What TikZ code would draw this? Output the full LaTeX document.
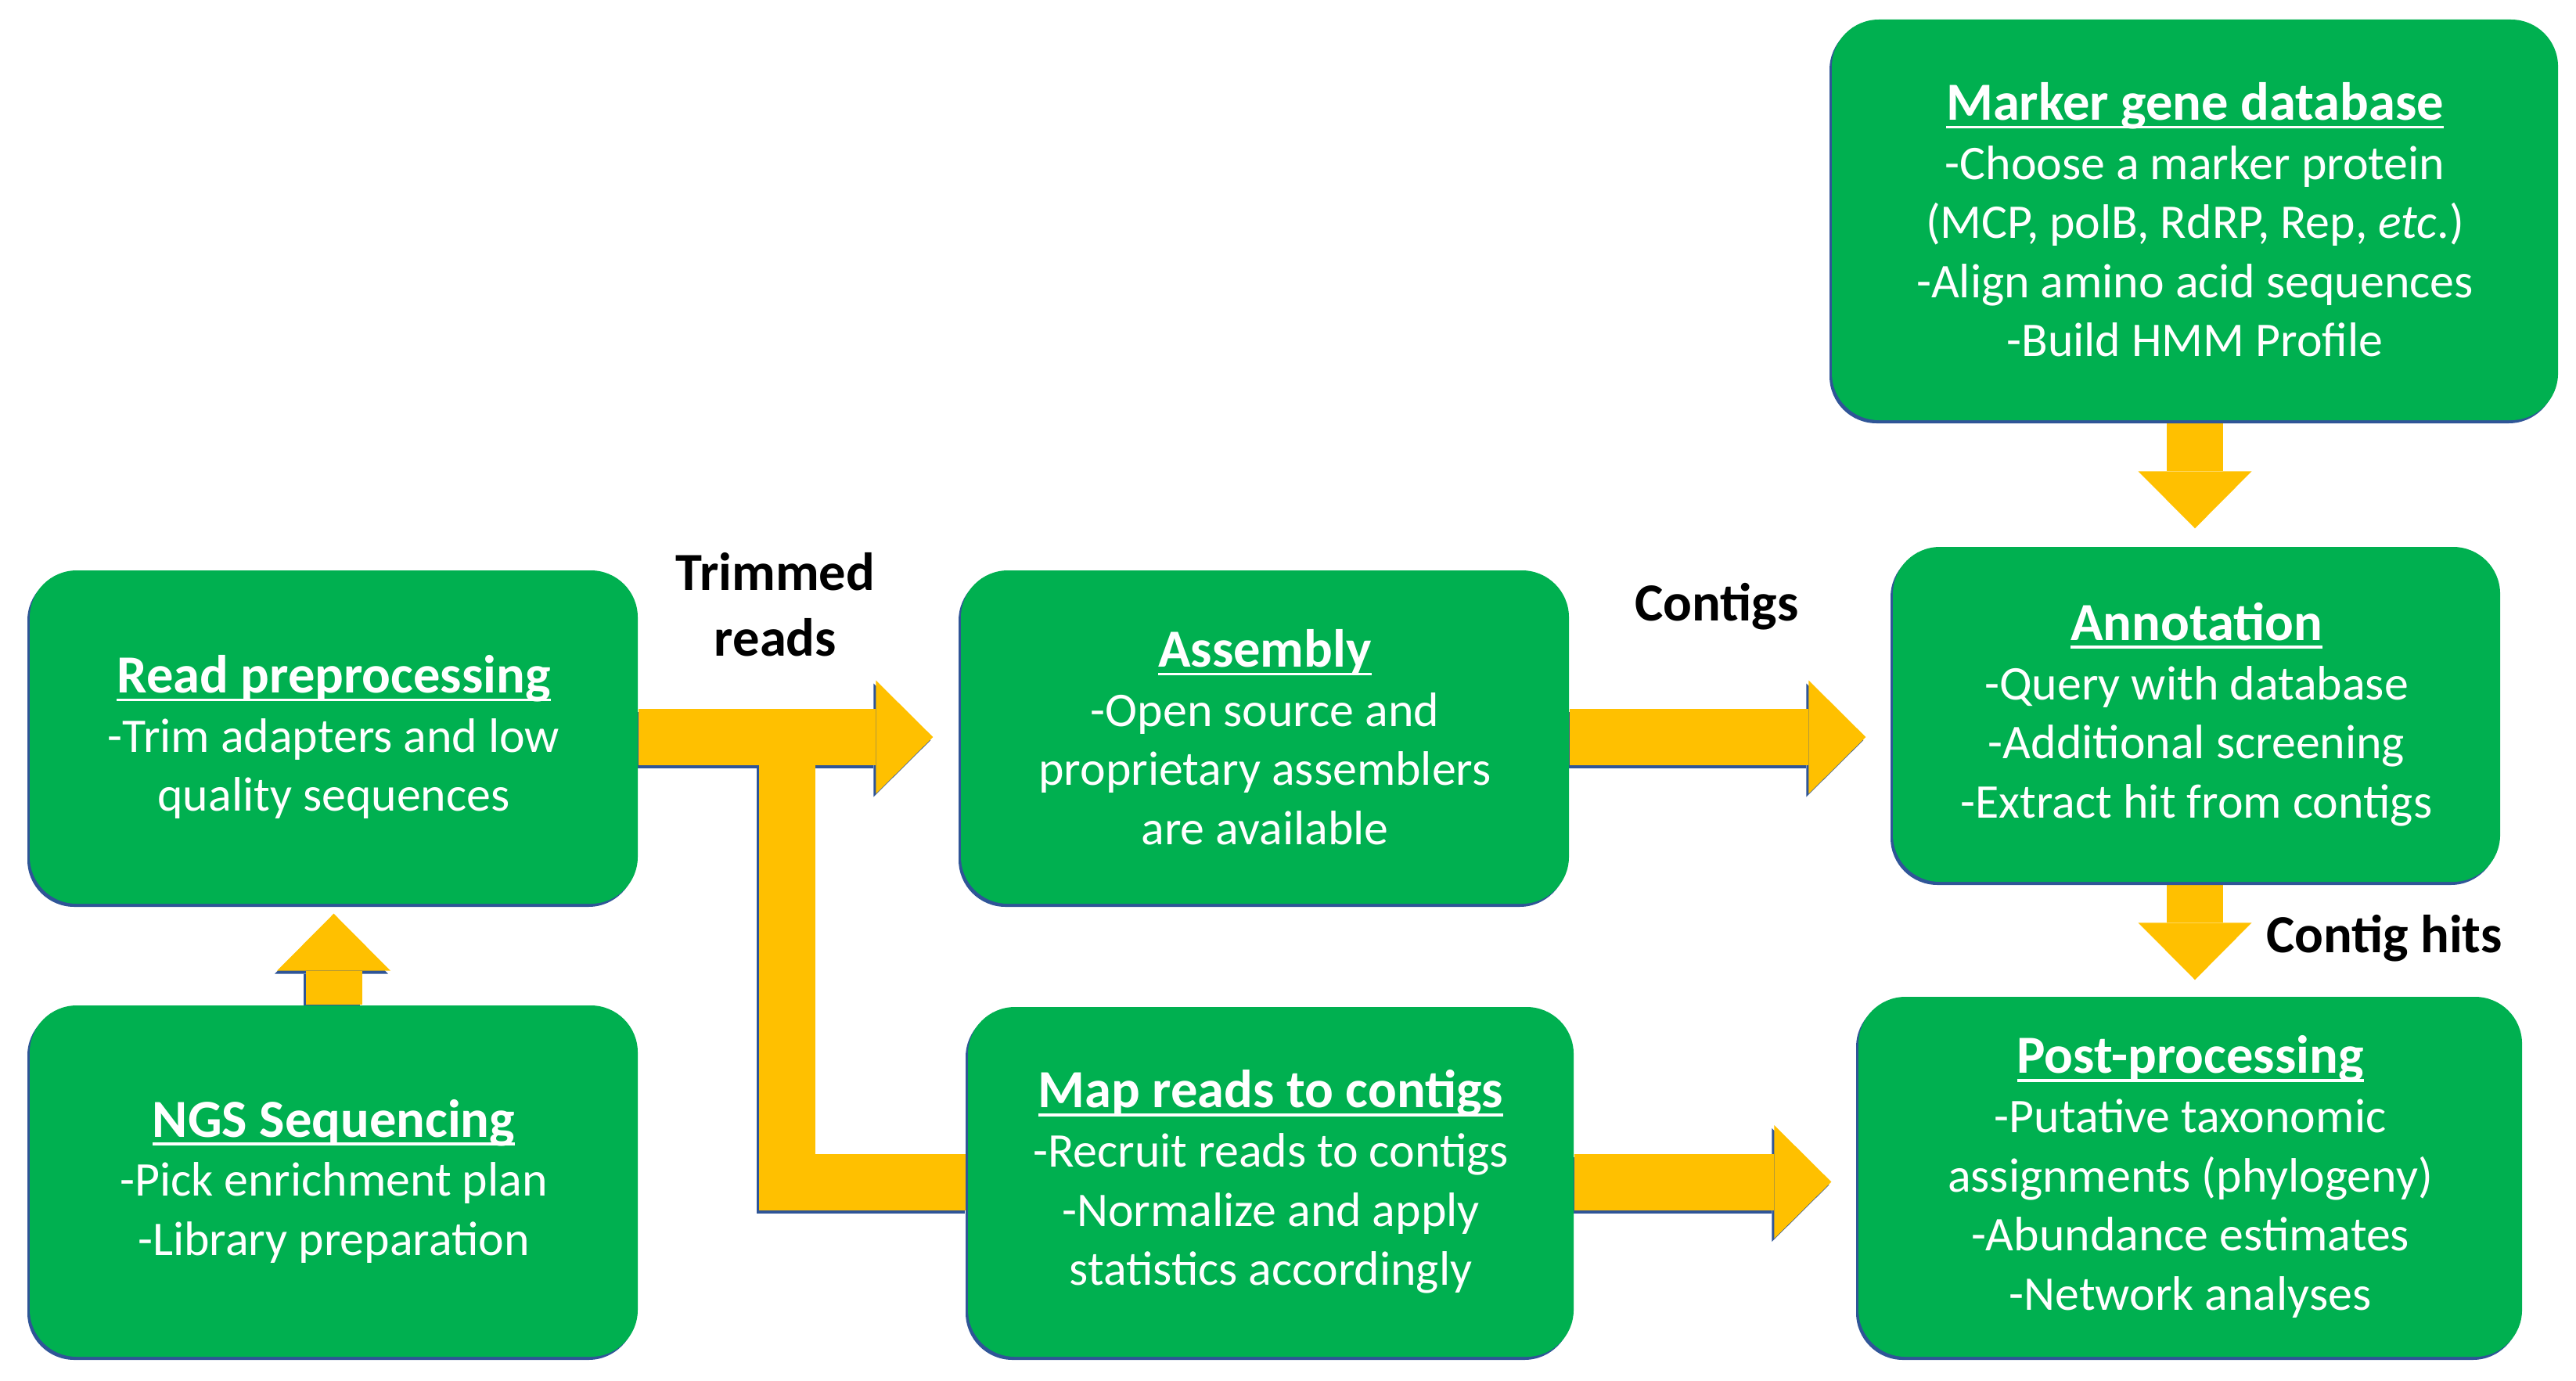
\documentclass[tikz,border=0pt]{standalone}
\usepackage{fontspec}
\setmainfont{Carlito}
\usetikzlibrary{arrows.meta,shadows,backgrounds}
\definecolor{boxgreen}{RGB}{0,176,80}
\definecolor{flowyellow}{RGB}{255,192,0}
\definecolor{edgeblue}{RGB}{47,85,151}
\newsavebox{\titlebox}
\newcommand{\boxtitle}[1]{{\fontsize{19.5}{22}\selectfont\bfseries
  \sbox{\titlebox}{#1}\rlap{\rule[-3pt]{\wd\titlebox}{1pt}}\usebox{\titlebox}}}

\tikzset{
  stage/.style={rectangle, rounded corners=0.6cm, fill=boxgreen, text=white, align=center,
    inner sep=0pt, font=\fontsize{17.6}{21.5}\selectfont,
    drop shadow={shadow xshift=-0.03cm, shadow yshift=-0.04cm, fill=edgeblue, opacity=1}},
  flow/.style={line width=0.72cm, draw=#1, line join=miter},
  flow/.default=flowyellow,
  head/.style={-{Triangle[length=0.73cm,width=1.45cm,line width=0pt]}},
  tag/.style={font=\fontsize{19.5}{24}\selectfont\bfseries, align=center}
}

\begin{document}
\begin{tikzpicture}
\useasboundingbox (0,0) rectangle (32.92,-17.64);

% pipeline stages
\node[stage, minimum width=7.77cm, minimum height=4.26cm] (read) at (4.265,-9.42)
  {\boxtitle{Read preprocessing}\\-Trim adapters and low\\quality sequences};
\node[stage, minimum width=7.77cm, minimum height=4.49cm] (ngs) at (4.265,-15.095)
  {\boxtitle{NGS Sequencing}\\-Pick enrichment plan\\-Library preparation};
\node[stage, minimum width=7.77cm, minimum height=4.26cm] (asm) at (16.165,-9.42)
  {\boxtitle{Assembly}\\-Open source and\\proprietary assemblers\\are available};
\node[stage, minimum width=7.74cm, minimum height=4.47cm] (map) at (16.24,-15.105)
  {\boxtitle{Map reads to contigs}\\-Recruit reads to contigs\\-Normalize and apply\\statistics accordingly};
\node[stage, minimum width=9.28cm, minimum height=5.12cm] (marker) at (28.05,-2.81)
  {\boxtitle{Marker gene database}\\-Choose a marker protein\\(MCP, polB, RdRP, Rep, \textit{etc}.)\\-Align amino acid sequences\\-Build HMM Profile};
\node[stage, minimum width=7.76cm, minimum height=4.28cm] (annot) at (28.07,-9.13)
  {\boxtitle{Annotation}\\-Query with database\\-Additional screening\\-Extract hit from contigs};
\node[stage, minimum width=8.48cm, minimum height=4.60cm] (post) at (27.99,-15.04)
  {\boxtitle{Post-processing}\\-Putative taxonomic\\assignments (phylogeny)\\-Abundance estimates\\-Network analyses};

% arrow labels
\node[tag] (trimlbl) at (9.91,-7.73) {Trimmed\\reads};
\node[tag] (contiglbl) at (21.94,-7.75) {Contigs};
\node[tag] (hitlbl) at (30.47,-11.99) {Contig hits};

\coordinate (split) at (10.055,-9.42);

% block arrows, blue edge first
\begin{pgfonlayer}{background}
\foreach \col/\dx/\dy in {edgeblue/-0.03/-0.04, flowyellow/0/0} {
  \begin{scope}[transform canvas={shift={(\dx,\dy)}}]
  \draw[flow=\col] (split) |- (map.west);
  \draw[flow=\col, head, shorten >=0.35cm] (read.east) -- (asm.west);
  \draw[flow=\col, head, shorten >=0.34cm] (asm.east) -- (asm.east -| annot.west);
  \draw[flow=\col, head, shorten >=0.34cm] (map.east) -- (map.east -| post.west);
  \draw[flow=\col, head, shorten >=0.12cm] (ngs.north) -- (read.south);
  \end{scope}
}
\draw[flow, head, shorten >=0.23cm] (marker.south) -- (marker.south |- annot.north);
\draw[flow, head, shorten >=0.21cm] (marker.south |- annot.south) -- (marker.south |- post.north);
\end{pgfonlayer}
\end{tikzpicture}
\end{document}
